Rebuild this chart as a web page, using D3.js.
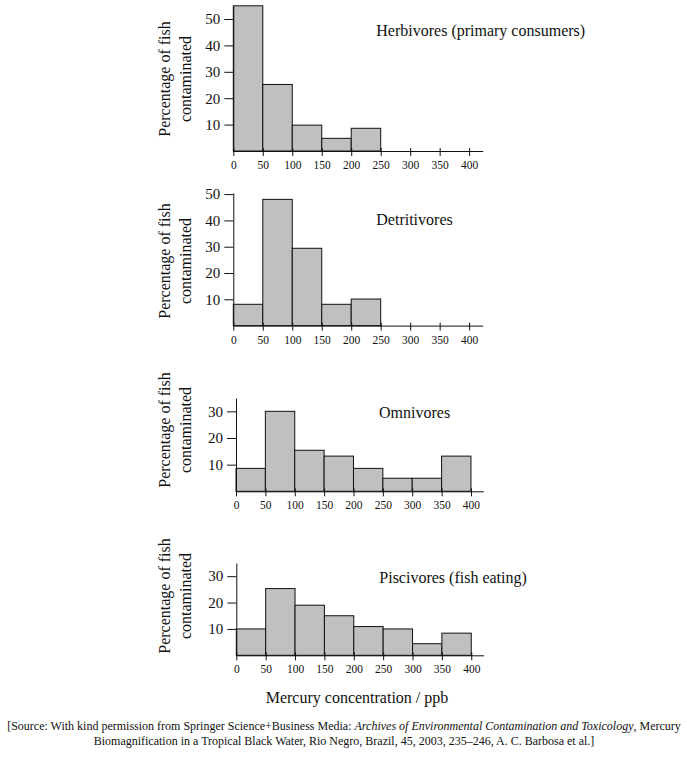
<!DOCTYPE html>
<html>
<head>
<meta charset="utf-8">
<script src="https://cdn.jsdelivr.net/npm/d3@7"></script>
<style>
  body { margin: 0; background: #fff; }
  svg { display: block; font-family: "Liberation Serif", "Times New Roman", serif; }
  text { fill: #111; }
</style>
</head>
<body>
<svg width="687" height="759"></svg>
<script>
const serif = '"Liberation Serif", "Times New Roman", serif';

// bin edges (ppb) and tick values
const binEdges = [0, 50, 100, 150, 200, 250, 300, 350, 400];
const xTicks = [0, 50, 100, 150, 200, 250, 300, 350, 400];

// percentage of fish contaminated per 50 ppb bin
const herbivores = [55, 25.2, 9.8, 4.8, 8.6];
const detritivores = [8.1, 48, 29.4, 8.1, 10.1];
const omnivores = [8.6, 30, 15.4, 13.2, 8.6, 4.9, 4.9, 13.2];
const piscivores = [10, 25.3, 19, 15, 10.9, 10, 4.4, 8.4];

const titles = ["Herbivores (primary consumers)", "Detritivores", "Omnivores", "Piscivores (fish eating)"];
const yMaxes = [55, 50.5, 35, 35];
const yTickSets = [[10, 20, 30, 40, 50], [10, 20, 30, 40, 50], [10, 20, 30], [10, 20, 30]];
const seriesList = [herbivores, detritivores, omnivores, piscivores];

// layout for each panel (pixels)
const panels = [
  { left: 233.3, right: 482.7, xMax: 423, base: 151, top: 5.8, titleY: 36, labelMid: 79 },
  { left: 233.3, right: 482.7, xMax: 423, base: 325.6, top: 192.8, titleY: 225, labelMid: 261 },
  { left: 236, right: 483.3, xMax: 421, base: 491.3, top: 398, titleY: 418, labelMid: 430 },
  { left: 236.3, right: 483.6, xMax: 421, base: 655.3, top: 563, titleY: 583, labelMid: 596 }
];

const svg = d3.select("svg");

panels.forEach((p, i) => {
  const data = seriesList[i];
  const x = d3.scaleLinear().domain([0, p.xMax]).range([p.left, p.right]);
  const y = d3.scaleLinear().domain([0, yMaxes[i]]).range([p.base, p.top]);
  const g = svg.append("g");

  g.selectAll("rect")
    .data(data)
    .enter().append("rect")
    .attr("x", (d, j) => x(binEdges[j]))
    .attr("width", (d, j) => x(binEdges[j + 1]) - x(binEdges[j]))
    .attr("y", d => y(d))
    .attr("height", d => y(0) - y(d))
    .attr("fill", "#c0c0c0")
    .attr("stroke", "#111")
    .attr("stroke-width", 1);

  const xAxis = g.append("g")
    .attr("transform", `translate(0,${p.base})`)
    .call(d3.axisBottom(x).tickValues(xTicks).tickSize(5).tickSizeOuter(0).tickPadding(5));
  xAxis.attr("font-family", serif).attr("font-size", null);
  xAxis.selectAll(".tick line").attr("y1", -3);
  xAxis.selectAll("text").style("font-size", "11.5px").style("font-family", serif).attr("fill", "#111");

  const yAxis = g.append("g")
    .attr("transform", `translate(${p.left},0)`)
    .call(d3.axisLeft(y).tickValues(yTickSets[i]).tickSize(9).tickSizeOuter(0).tickPadding(4));
  yAxis.attr("font-family", serif).attr("font-size", null);
  yAxis.selectAll("text").style("font-size", "15px").style("font-family", serif).attr("fill", "#111");

  g.selectAll(".domain, .tick line").attr("stroke", "#111");

  g.append("text")
    .attr("x", p.left + 143)
    .attr("y", p.titleY)
    .style("font-size", "16px")
    .text(titles[i]);

  const lab = g.append("text")
    .attr("transform", `translate(0,${p.labelMid}) rotate(-90)`)
    .attr("text-anchor", "middle")
    .style("font-size", "16px");
  lab.append("tspan").attr("x", 0).attr("y", 170).text("Percentage of fish");
  lab.append("tspan").attr("x", 0).attr("y", 191).text("contaminated");
});

svg.append("text")
  .attr("x", 357)
  .attr("y", 703)
  .attr("text-anchor", "middle")
  .style("font-size", "16px")
  .text("Mercury concentration / ppb");

const cap1 = svg.append("text")
  .attr("x", 344)
  .attr("y", 730)
  .attr("text-anchor", "middle")
  .style("font-size", "12px");
cap1.append("tspan").text("[Source: With kind permission from Springer Science+Business Media: ");
cap1.append("tspan").style("font-style", "italic").text("Archives of Environmental Contamination and Toxicology");
cap1.append("tspan").text(", Mercury");

svg.append("text")
  .attr("x", 344)
  .attr("y", 745)
  .attr("text-anchor", "middle")
  .style("font-size", "12px")
  .text("Biomagnification in a Tropical Black Water, Rio Negro, Brazil, 45, 2003, 235\u2013246, A. C. Barbosa et al.]");
</script>
</body>
</html>
